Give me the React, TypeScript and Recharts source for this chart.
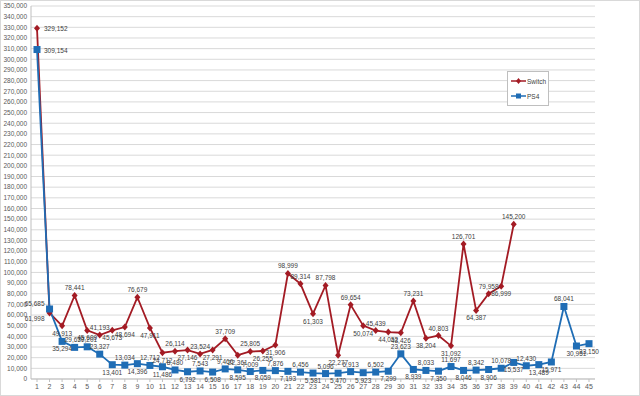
import { LineChart, Line, XAxis, YAxis, CartesianGrid, LabelList } from 'recharts';

const weeks = [
  '1', '2', '3', '4', '5', '6', '7', '8', '9', '10',
  '11', '12', '13', '14', '15', '16', '17', '18', '19', '20',
  '21', '22', '23', '24', '25', '26', '27', '28', '29', '30',
  '31', '32', '33', '34', '35', '36', '37', '38', '39', '40',
  '41', '42', '43', '44', '45',
];

const switchSales = [
  329152, 61998, 49913, 78441, 45609, 41193, 45673, 48694, 76679, 47911,
  24712, 26114, 27146, 23524, 27291, 37709, 22361, 25805, 26255, 31906,
  98999, 89314, 61303, 87798, 22277, 69654, 50074, 45439, 44052, 43426,
  73231, 38204, 40803, 31092, 126701, 64387, 79958, 86999, 145200,
];

const ps4Sales = [
  309154, 65685, 35294, 29677, 30201, 23327, 13401, 13034, 14396, 12712,
  11486, 8480, 6792, 7543, 6508, 9466, 8595, 7009, 8059, 7876,
  7193, 6456, 5581, 5096, 5470, 6913, 5923, 6502, 7299, 23623,
  8939, 8033, 7350, 11697, 8046, 8342, 8906, 10078, 15537, 12430,
  13489, 15971, 68041, 30951, 33150,
];

const yTicks = [
  0, 10000, 20000, 30000, 40000, 50000, 60000, 70000, 80000, 90000,
  100000, 110000, 120000, 130000, 140000, 150000, 160000, 170000, 180000, 190000,
  200000, 210000, 220000, 230000, 240000, 250000, 260000, 270000, 280000, 290000,
  300000, 310000, 320000, 330000, 340000, 350000,
];

const RED = '#A31B24';
const BLUE = '#1F6DB5';
const FONT = '"Liberation Sans", Arial, sans-serif';

const data = weeks.map((w, i) => ({
  week: w,
  Switch: i < switchSales.length ? switchSales[i] : null,
  PS4: ps4Sales[i],
}));

const fmt = (v: number) => v.toLocaleString('en-US');

function Diamond(props: any) {
  const { cx, cy } = props;
  if (cx == null || cy == null || props.value == null) return null;
  return <path d={`M${cx},${cy - 3.5}L${cx + 3},${cy}L${cx},${cy + 3.5}L${cx - 3},${cy}Z`} fill={RED} />;
}

function Square(props: any) {
  const { cx, cy } = props;
  if (cx == null || cy == null) return null;
  return <rect x={cx - 3.5} y={cy - 3.5} width={7} height={7} fill={BLUE} />;
}

// Label placement: above peaks, below dips; on flat stretches both series
// alternate up/down on the same beat so neighbouring labels don't pile up.
function makeLabel(values: number[], other: number[]) {
  return (props: any) => {
    const { x, y, value, index } = props;
    if (value == null) return null;
    if (index === 0) {
      return (
        <text x={x + 7} y={y + 3} fontSize={6.5} fill="#404040" fontFamily={FONT}>{fmt(value)}</text>
      );
    }
    if (index === 1) {
      const below = value < other[index];
      return (
        <text x={x - 5} y={y + (below ? 8 : -3)} fontSize={6.5} fill="#404040" textAnchor="end" fontFamily={FONT}>
          {fmt(value)}
        </text>
      );
    }
    const prev = values[index - 1];
    const next = index + 1 < values.length ? values[index + 1] : prev;
    const swing = Math.max(Math.abs(value - prev), Math.abs(value - next));
    const below = swing < 6000 ? index % 2 === 0 : value < (prev + next) / 2;
    return (
      <text x={x} y={y + (below ? 10 : -5)} fontSize={6.5} fill="#404040" textAnchor="middle" fontFamily={FONT}>
        {fmt(value)}
      </text>
    );
  };
}

function LegendBox() {
  return (
    <div style={{
      position: 'absolute', left: 506, top: 70, width: 40, height: 33,
      border: '1px solid #bfbfbf', background: '#fff',
    }}>
      <svg width={40} height={33} style={{ position: 'absolute', left: 0, top: 0 }}>
        <line x1={3} x2={18} y1={9} y2={9} stroke={RED} strokeWidth={1.5} />
        <path d="M10.5,6L13,9L10.5,12L8,9Z" fill={RED} />
        <text x={19} y={11.5} fontSize={6.5} fill="#404040" fontFamily={FONT}>Switch</text>
        <line x1={3} x2={18} y1={24} y2={24} stroke={BLUE} strokeWidth={1.5} />
        <rect x={8} y={21.5} width={5} height={5} fill={BLUE} />
        <text x={19} y={26.5} fontSize={6.5} fill="#404040" fontFamily={FONT}>PS4</text>
      </svg>
    </div>
  );
}

export default function App() {
  return (
    <div style={{
      position: 'absolute', left: 0, top: 0, width: 640, height: 396,
      background: '#fff', boxSizing: 'border-box', border: '1px solid #d9d9d9',
    }}>
      <LineChart width={638} height={394} data={data} margin={{ top: 5, right: 44, bottom: 2, left: 0 }}>
        <CartesianGrid vertical={false} stroke="#d9d9d9" />
        <XAxis
          dataKey="week"
          interval={0}
          padding={{ left: 6, right: 6 }}
          tick={{ fontSize: 7, fill: '#595959', fontFamily: FONT }}
          axisLine={{ stroke: '#bfbfbf' }}
          tickLine={{ stroke: '#bfbfbf' }}
          tickSize={3}
          height={14}
        />
        <YAxis
          domain={[0, 350000]}
          ticks={yTicks}
          interval={0}
          tickFormatter={fmt}
          tick={{ fontSize: 6.5, fill: '#595959', fontFamily: FONT }}
          axisLine={{ stroke: '#bfbfbf' }}
          tickLine={false}
          tickSize={2}
          width={30}
        />
        <Line
          dataKey="Switch" stroke={RED} strokeWidth={1.8} dot={<Diamond />}
          activeDot={false} isAnimationActive={false}
        >
          <LabelList dataKey="Switch" content={makeLabel(switchSales, ps4Sales)} />
        </Line>
        <Line
          dataKey="PS4" stroke={BLUE} strokeWidth={1.8} dot={<Square />}
          activeDot={false} isAnimationActive={false}
        >
          <LabelList dataKey="PS4" content={makeLabel(ps4Sales, switchSales)} />
        </Line>
      </LineChart>
      <LegendBox />
    </div>
  );
}
